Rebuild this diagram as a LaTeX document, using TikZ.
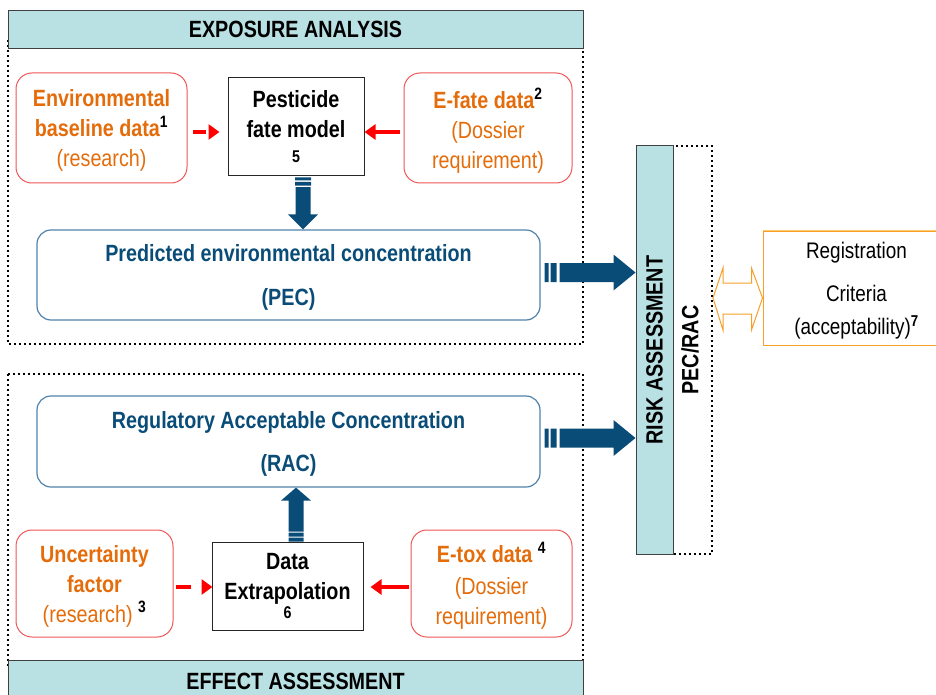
\documentclass[tikz,border=0pt]{standalone}
\usepackage{fontspec}
\setmainfont{Liberation Sans}[FakeStretch=0.84]
\usetikzlibrary{arrows.meta,calc}

\definecolor{tealfill}{RGB}{185,224,227}
\definecolor{hdrline}{RGB}{64,64,64}
\definecolor{orangetxt}{RGB}{228,108,10}
\definecolor{redline}{RGB}{240,85,85}
\definecolor{navy}{RGB}{10,76,120}
\definecolor{pecline}{RGB}{80,130,170}
\definecolor{orangeline}{RGB}{247,160,40}
\definecolor{orangelight}{RGB}{255,200,112}

\newcommand\bigfont{\fontsize{23.5}{30}\selectfont}
\newcommand\smallnum{\fontsize{17}{17}\selectfont}
\newcommand\supnum[1]{\textsuperscript{\color{black}\bfseries #1}}

% striped block arrow pointing right: #1 tail, #2 tip (same height)
\newcommand\stripedright[2]{%
  \fill[navy] ($(#1)+(0,-9.5)$) rectangle ($(#1)+(4,9.5)$)
    ($(#1)+(6,-9.5)$) rectangle ($(#1)+(12,9.5)$)
    ($(#1)+(15,-9.5)$) rectangle ($(#2)+(-22,9.5)$)
    ($(#2)+(-22,-18)$) -- (#2) -- ($(#2)+(-22,18)$) -- cycle;}
% striped block arrow pointing down
\newcommand\stripeddown[2]{%
  \fill[navy] ($(#1)+(-8,0)$) rectangle ($(#1)+(8,3)$)
    ($(#1)+(-8,4.5)$) rectangle ($(#1)+(8,8)$)
    ($(#1)+(-7.5,9.5)$) rectangle ($(#2)+(7.5,-15)$)
    ($(#2)+(-15,-15)$) -- (#2) -- ($(#2)+(15,-15)$) -- cycle;}
% striped block arrow pointing up
\newcommand\stripedup[2]{%
  \fill[navy] ($(#1)+(-7.5,0)$) rectangle ($(#1)+(7.5,-4)$)
    ($(#1)+(-7.5,-5)$) rectangle ($(#1)+(7.5,-9)$)
    ($(#1)+(-7.5,-10)$) rectangle ($(#2)+(7.5,13)$)
    ($(#2)+(-15,13)$) -- (#2) -- ($(#2)+(15,13)$) -- cycle;}

\begin{document}
\begin{tikzpicture}[x=1pt,y=-1pt,
  hdr/.style={draw=hdrline, fill=tealfill, line width=1pt, font=\bfseries\bigfont, inner sep=0pt},
  dotframe/.style={line width=2pt, dash pattern=on 2pt off 3pt},
  srcbox/.style={draw=redline, rounded corners=16pt, line width=1pt, text=orangetxt,
    align=center, font=\bfseries\bigfont, inner sep=0pt, text depth=0pt},
  procbox/.style={draw=black!85, line width=1pt, align=center, font=\bfseries\bigfont, inner sep=0pt},
  concbox/.style={draw=pecline, rounded corners=14pt, line width=1.2pt, text=navy,
    align=center, font=\bfseries\bigfont, inner sep=0pt, text depth=-3pt},
  redarr/.style={draw=red, line width=4.5pt, -{Triangle[length=11pt,width=15pt]}},
]
\useasboundingbox (0,0) rectangle (936,695);

% ---------- dotted frames ----------
\draw[dotframe] (8,40) rectangle (583,344);
\draw[dotframe] (8,374) rectangle (583,665);
\node[dotframe, draw, minimum width=48, minimum height=408, inner sep=0pt] (pecbox) at (688,350) {};

% ---------- headers ----------
\node[hdr, minimum width=575, minimum height=38] (exphdr) at (295.5,29.5) {EXPOSURE ANALYSIS};
\node[hdr, minimum width=575, minimum height=42] (effhdr) at (295.5,681) {EFFECT ASSESSMENT};

% ---------- exposure analysis ----------
\node[srcbox, minimum width=171, minimum height=110] (env) at (101.5,128)
  {Environmental\\baseline data\supnum{1}\\{\mdseries(research)}};
\node[procbox, minimum width=136, minimum height=98] (pest) at (296,127)
  {Pesticide\\fate model\\[-5pt]{\smallnum 5}};
\node[srcbox, minimum width=168, minimum height=110] (efate) at (488,128)
  {E-fate data\supnum{2}\\{\mdseries(Dossier}\\{\mdseries requirement)}};
\node[concbox, minimum width=503, minimum height=90] (pec) at (288.5,275)
  {Predicted environmental concentration\\[14pt](PEC)};

% ---------- effect assessment ----------
\node[concbox, minimum width=503, minimum height=91] (rac) at (288.5,441.5)
  {Regulatory Acceptable Concentration\\[13pt](RAC)};
\node[srcbox, minimum width=157, minimum height=107] (unc) at (94.5,583.5)
  {Uncertainty\\factor\\{\mdseries(research)} \supnum{3}};
\node[procbox, minimum width=151, minimum height=88] (dex) at (287.5,586)
  {Data\\Extrapolation\\[-11pt]{\smallnum 6}};
\node[srcbox, minimum width=161, minimum height=107] (etox) at (491.5,583.5)
  {E-tox data \supnum{4}\\[2pt]{\mdseries(Dossier}\\{\mdseries requirement)}};

% ---------- risk assessment bar ----------
\node[hdr, minimum width=37, minimum height=408] (risk) at (654.5,350) {};
\node[rotate=90, font=\bfseries\bigfont, inner sep=0pt] (risktxt) at (risk.center) {RISK ASSESSMENT};
\node[rotate=90, font=\bfseries\bigfont, inner sep=0pt] (pecrac) at (690,350) {PEC/RAC};

% ---------- registration criteria ----------
\node[draw=orangeline, line width=1pt, minimum width=187, minimum height=114,
  align=center, font=\fontsize{22.5}{30}\selectfont, inner sep=0pt, text depth=-2pt] (reg) at (856.5,288)
  {Registration\\[13pt]Criteria\\[3pt](acceptability)\supnum{7}};
\draw[orangelight, line width=1.2pt] (reg.north west) -- (reg.north east);

% ---------- red input arrows ----------
\coordinate (r1) at ($(env.east)+(5,4)$);
\draw[redarr, dash pattern=on 13pt off 40pt] (r1) -- ($(r1 -| pest.west)+(-8,0)$);
\coordinate (r2) at ($(efate.west)+(-4,4)$);
\draw[redarr] (r2) -- (r2 -| pest.east);
\coordinate (r3) at ($(unc.east)+(2,3.5)$);
\draw[redarr, dash pattern=on 15pt off 40pt] (r3) -- ($(r3 -| dex.west)+(1,0)$);
\coordinate (r4) at ($(etox.west)+(-2,3.5)$);
\draw[redarr] (r4) -- ($(r4 -| dex.east)+(7,0)$);

% ---------- blue block arrows ----------
\coordinate (d1) at ($(pest.south)+(7,1)$);
\coordinate (d1t) at (d1 |- pec.north);
\stripeddown{d1}{d1t}
\coordinate (u1) at ($(dex.north)+(8.5,0)$);
\coordinate (u1t) at (u1 |- rac.south);
\stripedup{u1}{u1t}
\coordinate (a1) at ($(pec.east)+(4,-2.5)$);
\coordinate (a1t) at (risk.west |- a1);
\stripedright{a1}{a1t}
\coordinate (a2) at ($(rac.east)+(4,-3.5)$);
\coordinate (a2t) at (risk.west |- a2);
\stripedright{a2}{a2t}

% ---------- hollow double arrow to the criteria ----------
\coordinate (dl) at (pecbox.east |- 0,298);
\coordinate (dr) at (reg.west |- 0,298);
\draw[orangeline, line width=1pt, fill=white]
  (dl) -- ($(dl)+(10,-30)$) -- ($(dl)+(10,-15)$) -- ($(dr)+(-11,-15)$) -- ($(dr)+(-11,-30)$)
  -- (dr) -- ($(dr)+(-11,32)$) -- ($(dr)+(-11,16)$) -- ($(dl)+(10,16)$) -- ($(dl)+(10,32)$) -- cycle;
\end{tikzpicture}
\end{document}
